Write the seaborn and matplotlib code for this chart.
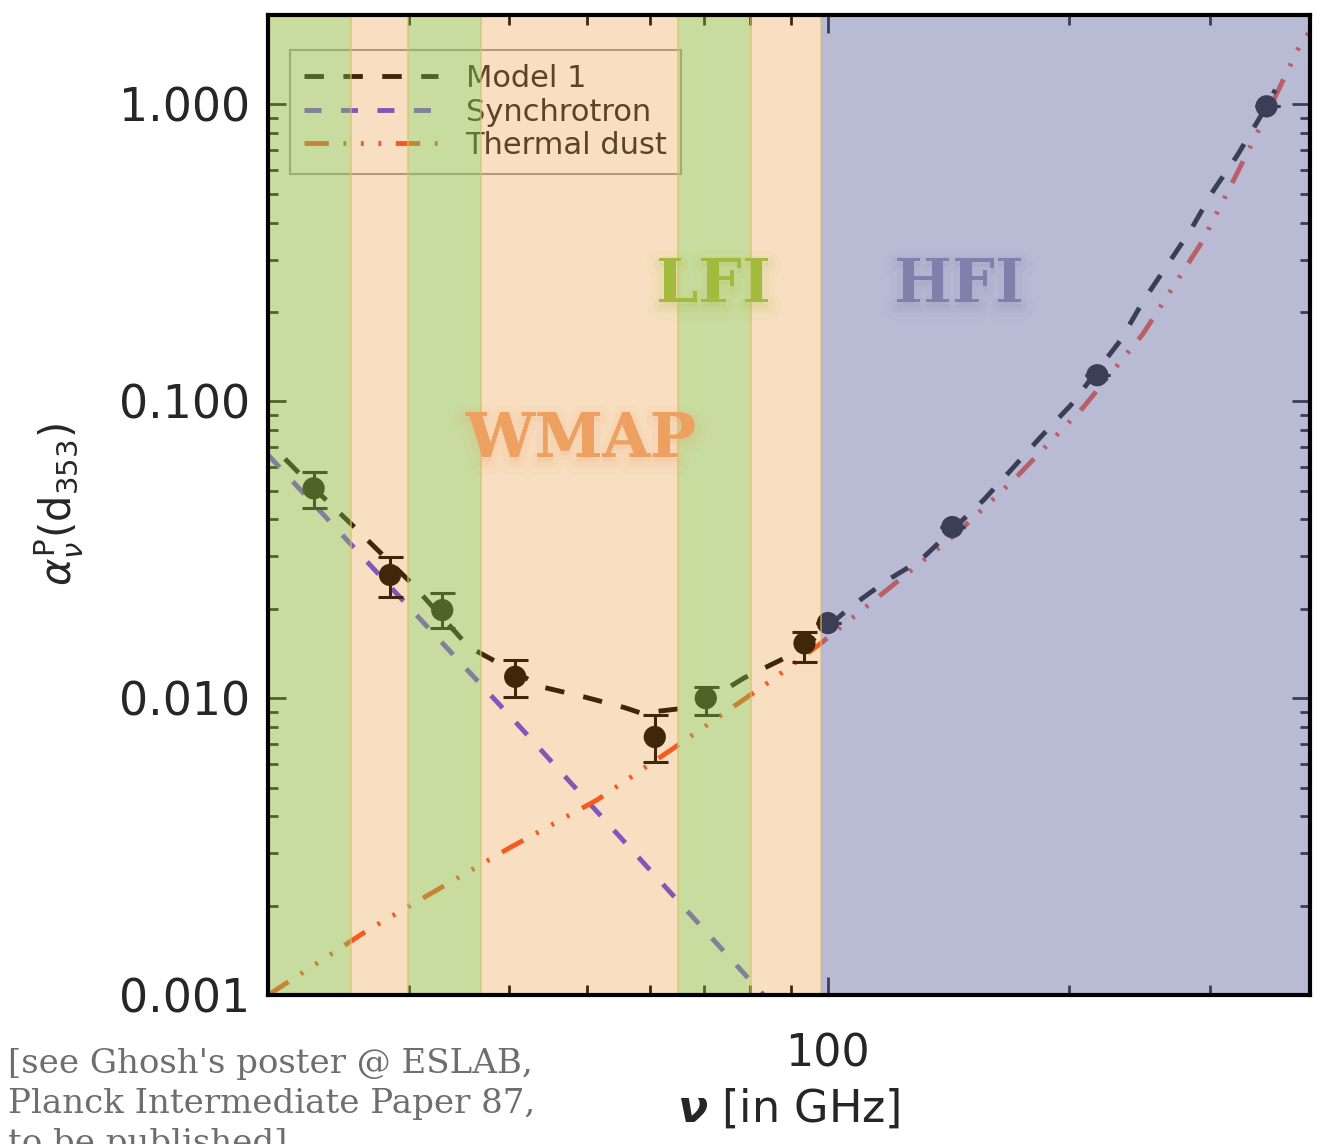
import matplotlib
matplotlib.use("Agg")
import matplotlib.pyplot as plt
import matplotlib.ticker as mticker
import matplotlib.patheffects as pe
import seaborn as sns

# measured polarisation ratio per channel (GHz, value, error bar down / up)
freq_ghz = [22.8, 28.4, 33.0, 40.7, 60.8, 70.4, 93.5, 100.0, 143.0, 217.0, 353.0]
alpha_p = [0.0509, 0.0260, 0.0198, 0.0118, 0.0074, 0.0100, 0.0153, 0.0179, 0.0377, 0.1224, 0.985]
err_lo = [0.0073, 0.0041, 0.0026, 0.0017, 0.0013, 0.0012, 0.0021, 0.0, 0.0, 0.0, 0.0]
err_hi = [0.0068, 0.0039, 0.0028, 0.0016, 0.0014, 0.0009, 0.0014, 0.0, 0.0, 0.0, 0.0]

# model curves
model_nu = [21.0, 22.8, 25.5, 30.2, 35.6, 44.0, 49.6, 55.7, 58.5, 65.0, 72.0, 78.6, 92.5,
            107.0, 118.8, 130.6, 156.5, 170.6, 184.3, 201.0, 232.0, 248.0, 283.6, 303.0,
            324.6, 353.0, 362.0]
model_val = [0.064, 0.051, 0.0382, 0.0244, 0.0149, 0.0109, 0.0101, 0.0093, 0.0089, 0.0092,
             0.0101, 0.0117, 0.0145, 0.0204, 0.025, 0.0292, 0.0465, 0.060, 0.0757, 0.0969,
             0.1605, 0.219, 0.376, 0.513, 0.674, 0.985, 1.12]
sync_nu = [20.0, 40.6, 90.0]
sync_val = [0.066, 0.0084, 0.00079]
dust_nu = [20.0, 26.7, 40.2, 51.5, 63.9, 85.1, 98.0, 119.8, 145.0, 170.6, 208.5, 247.6,
           293.0, 322.0, 360.0, 391.0, 402.0]
dust_val = [0.001, 0.00166, 0.00315, 0.00454, 0.00673, 0.0115, 0.0153, 0.0237, 0.036, 0.0543,
            0.0955, 0.169, 0.343, 0.564, 1.03, 1.64, 1.78]

# instrument frequency bands (GHz)
band_lo = [20.0, 25.4, 29.9, 36.9, 65.0, 80.2, 98.0]
band_hi = [25.4, 29.9, 36.9, 65.0, 80.2, 98.0, 400.0]
band_kind = ["green", "orange", "green", "orange", "green", "orange", "blue"]

band_color = {"green": "#97bd4b", "orange": "#e88f24", "blue": "#767aad"}
band_alpha = {"green": 0.53, "orange": 0.28, "blue": 0.51}

sns.set_style("white")
plt.rcParams["font.family"] = ["DejaVu Sans"]
plt.rcParams["mathtext.fontset"] = "dejavusans"

fig = plt.figure(figsize=(13.23, 11.44), dpi=100)
ax = fig.add_axes([0.2026, 0.1302, 0.7876, 0.8567])

sns.lineplot(x=sync_nu, y=sync_val, ax=ax, color="#6040f0", lw=3.5,
             linestyle=(0, (3.5, 4)), zorder=2)
h_sync = ax.lines[-1]
sns.lineplot(x=dust_nu, y=dust_val, ax=ax, color="#ff4520", lw=3.5,
             linestyle=(0, (5, 3, 0.6, 3, 0.6, 3, 0.6, 3)), zorder=2)
h_dust = ax.lines[-1]
sns.lineplot(x=model_nu, y=model_val, ax=ax, color="black", lw=3.5,
             linestyle=(0, (4, 4)), zorder=2.2)
h_model = ax.lines[-1]

ax.errorbar(freq_ghz, alpha_p, yerr=[err_lo, err_hi], fmt="none", ecolor="black",
            elinewidth=2.2, capsize=9, capthick=2.2, zorder=3)
sns.scatterplot(x=freq_ghz, y=alpha_p, ax=ax, color="black", s=16 ** 2,
                edgecolor="none", zorder=3.5)

ax.set_xscale("log")
ax.set_yscale("log")
ax.set_xlim(20, 400)
ax.set_ylim(0.001, 2.0)

# translucent band overlays sit on top of the data, like the original
for lo, hi, kind in zip(band_lo, band_hi, band_kind):
    ax.axvspan(lo, hi, color=band_color[kind], alpha=band_alpha[kind], lw=0, zorder=5)
for edge in band_lo[1:]:
    ax.axvline(edge, color="#d9bf6a", lw=1.2, alpha=0.7, zorder=5.1)

leg = ax.legend([h_model, h_sync, h_dust], ["Model 1", "Synchrotron", "Thermal dust"],
                loc="upper left", bbox_to_anchor=(0.021, 0.964), borderaxespad=0,
                fontsize=22, handlelength=4.4, handletextpad=0.9, labelspacing=0.15,
                borderpad=0.45, frameon=True, fancybox=False, facecolor="none",
                edgecolor="#8a8a8a")
leg.get_frame().set_linewidth(1.5)
leg.set_zorder(2.6)

ax.xaxis.set_major_formatter(mticker.FuncFormatter(lambda v, p: f"{v:.0f}"))
ax.xaxis.set_minor_formatter(mticker.NullFormatter())
ax.yaxis.set_major_formatter(mticker.FuncFormatter(lambda v, p: f"{v:.3f}"))
ax.yaxis.set_minor_formatter(mticker.NullFormatter())
ax.yaxis.set_minor_locator(mticker.LogLocator(base=10, subs=range(2, 10), numticks=20))
ax.xaxis.set_minor_locator(mticker.LogLocator(base=10, subs=range(2, 10), numticks=20))

ax.tick_params(which="both", direction="in", top=True, right=True, bottom=True, left=True,
               width=2, color="black")
ax.tick_params(which="major", length=13)
ax.tick_params(which="minor", length=7)
ax.tick_params(axis="y", which="major", labelsize=33, pad=13)
ax.tick_params(axis="x", which="major", labelsize=32, pad=27)

for sp in ax.spines.values():
    sp.set_linewidth(3)
    sp.set_color("black")
    sp.set_zorder(10)

ax.set_xlabel(r"$\boldsymbol{\nu}$ [in GHz]", fontsize=32, labelpad=8)
ax.set_ylabel(r"$\alpha_{\nu}^{\mathrm{P}}(\mathrm{d}_{353})$", fontsize=30)
ax.yaxis.set_label_coords(-0.175, 0.5)

glow = lambda c: [pe.withStroke(linewidth=18, foreground=c, alpha=0.05, offset=(0, -4)),
                  pe.withStroke(linewidth=9, foreground=c, alpha=0.08, offset=(0, -3)),
                  pe.Normal()]
ax.text(49.2, 0.0741, "WMAP", color="#eda060", fontsize=44, fontweight="bold",
        family="DejaVu Serif", ha="center", va="center", zorder=8,
        path_effects=glow("#eda060"))
ax.text(71.9, 0.246, "LFI", color="#a3bb3d", fontsize=44, fontweight="bold",
        family="DejaVu Serif", ha="center", va="center", zorder=8,
        path_effects=glow("#a3bb3d"))
ax.text(145.7, 0.246, "HFI", color="#7f80ab", fontsize=44, fontweight="bold",
        family="DejaVu Serif", ha="center", va="center", zorder=8,
        path_effects=glow("#7f80ab"))

fig.text(0.006, 0.0835, "[see Ghosh's poster @ ESLAB,\nPlanck Intermediate Paper 87,\nto be published]",
         family="DejaVu Serif", fontsize=24.5, color="#6e6e6e", ha="left", va="top",
         linespacing=1.32)

fig.savefig("out.png", dpi=100)
